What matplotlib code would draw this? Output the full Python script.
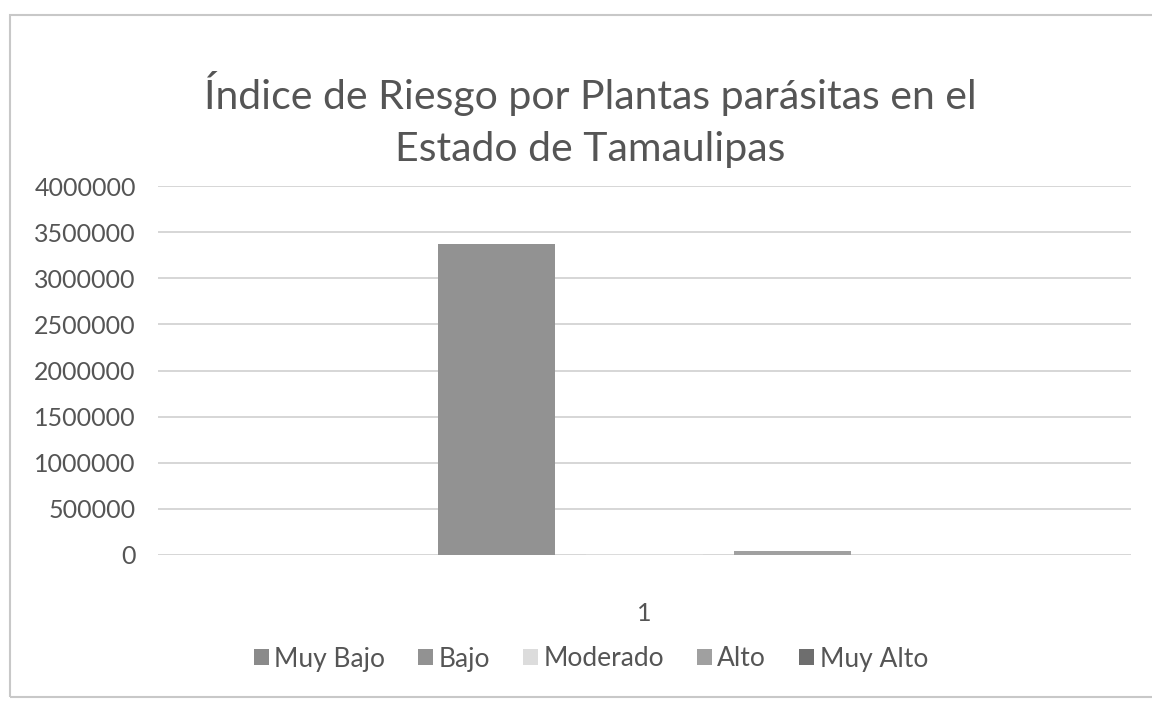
import numpy as np
import matplotlib.pyplot as plt
from matplotlib.patches import Rectangle

plt.rcParams['font.family'] = ['Lato', 'DejaVu Sans']

categories = ["1"]
series = ["Muy Bajo", "Bajo", "Moderado", "Alto", "Muy Alto"]
values = [0, 3370000, 15000, 45000, 0]
colors = ["#8a8a8a", "#929292", "#dcdcdc", "#a0a0a0", "#6e6e6e"]
y_ticks = [0, 500000, 1000000, 1500000, 2000000, 2500000, 3000000, 3500000, 4000000]

fig = plt.figure(figsize=(11.52, 7.02), dpi=100)
ax = fig.add_axes([158 / 1152, 1 - 555 / 702, 973 / 1152, 369 / 702])

# chart frame (light grey border like Excel)
fig.patches.append(Rectangle((10 / 1152, 5 / 702), 1.2, 682 / 702, transform=fig.transFigure,
                             fill=False, edgecolor="#c8c8c8", linewidth=1.5))

slot = 0.152
width = 0.121
x = np.arange(len(categories))
offsets = (np.arange(len(series)) - (len(series) - 1) / 2) * slot
for i, name in enumerate(series):
    ax.bar(x + offsets[i], values[i], width, color=colors[i], label=name, zorder=3)

ax.set_xlim(-0.5, 0.5)
ax.set_ylim(0, 4000000)
ax.set_yticks(y_ticks)
ax.set_yticklabels([str(v) for v in y_ticks])
ax.set_xticks(x)
ax.set_xticklabels(categories)
ax.grid(axis="y", color="#d6d6d6", linewidth=1.4, zorder=0)
ax.set_axisbelow(True)
for s in ax.spines.values():
    s.set_visible(False)
ax.tick_params(axis="both", length=0, labelsize=18, labelcolor="#555555")
ax.tick_params(axis="y", pad=16)
ax.tick_params(axis="x", pad=34)

fig.text(590 / 1152, 1 - 120 / 702, "Índice de Riesgo por Plantas parásitas en el\nEstado de Tamaulipas",
         ha="center", va="center", fontsize=29.5, color="#555555", linespacing=1.5)

fig.legend(loc="center", bbox_to_anchor=(591 / 1152, 1 - 659 / 702), ncol=5, frameon=False,
           fontsize=19, handlelength=0.57, handleheight=0.57, handletextpad=0.2,
           columnspacing=1.25, labelcolor="#555555")

fig.savefig("out.png", dpi=100)
